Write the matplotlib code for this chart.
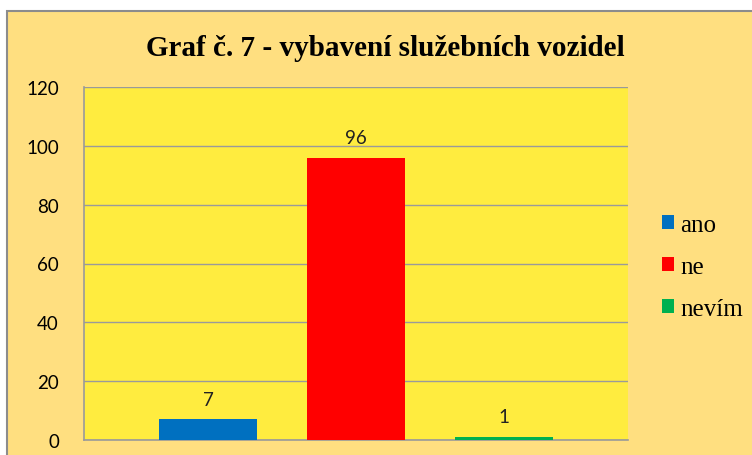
import matplotlib.pyplot as plt
from matplotlib.patches import Rectangle

categories = ['ano', 'ne', 'nevím']
values = [7, 96, 1]
colors = ['#0070C0', '#FF0000', '#00B050']
yticks = [0, 20, 40, 60, 80, 100, 120]

fig = plt.figure(figsize=(7.52, 4.56), dpi=100)
fig.patch.set_facecolor('white')

# orange chart area with gray border (cut at right and bottom like the original)
bg = fig.add_axes([0, 0, 1, 1], zorder=-1)
bg.set_axis_off()
bg.set_xlim(0, 1)
bg.set_ylim(0, 1)
bg.add_patch(Rectangle((7 / 752, -0.05), 1.1, 0.9737 + 0.05,
                       facecolor='#FFDF80', edgecolor='#8C8C8C', linewidth=1.5))

ax = fig.add_axes([84 / 752, 15 / 456, 544 / 752, 353 / 456])
ax.set_facecolor('#FFEC3F')

x = list(range(len(categories)))
bars = ax.bar(x, values, width=0.66, color=colors, label=categories, zorder=3)
for xi, v in zip(x, values):
    ax.text(xi, v + 4, str(v), ha='center', va='bottom', fontsize=13.5,
            family='Lato', color='#222222')

ax.set_xlim(-0.838, 2.838)
ax.set_ylim(0, 120)
ax.set_yticks(yticks)
ax.set_xticks([])
ax.tick_params(axis='y', length=0, pad=18, labelsize=13.5)
for lab in ax.get_yticklabels():
    lab.set_family('Lato')
ax.yaxis.grid(True, color='#9A9A9A', linewidth=1, zorder=1)
ax.set_axisbelow(True)
for s in ['top', 'right']:
    ax.spines[s].set_visible(False)
for s in ['left', 'bottom']:
    ax.spines[s].set_color('#9A9A9A')
    ax.spines[s].set_linewidth(1.2)

fig.text(385 / 752, 1 - 48 / 456, 'Graf č. 7 - vybavení služebních vozidel',
         ha='center', va='center', fontsize=21, fontweight='bold',
         family='Liberation Serif')

leg = fig.legend(handles=bars, labels=categories, loc='center left',
                 bbox_to_anchor=(644 / 752, 1 - 268 / 456), frameon=False,
                 prop={'family': 'Liberation Serif', 'size': 18},
                 handlelength=0.5, handleheight=0.5, handletextpad=0.25,
                 labelspacing=0.8, borderpad=0.2)

plt.savefig('out.png', dpi=100)
